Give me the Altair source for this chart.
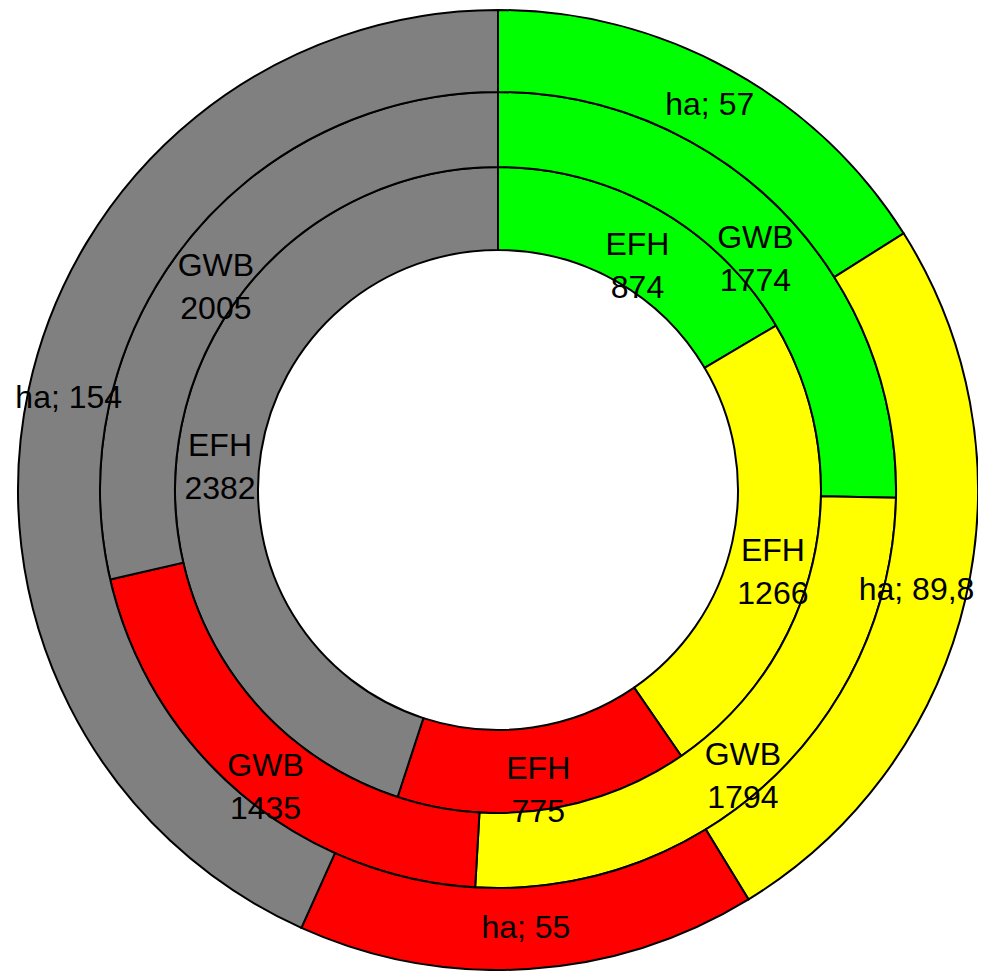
import altair as alt
import pandas as pd

segments = ["green", "yellow", "red", "gray"]
colors = ["#00ff00", "#ffff00", "#ff0000", "#808080"]
efh = [874, 1266, 775, 2382]
gwb = [1774, 1794, 1435, 2005]
ha = [57, 89.8, 55, 154]
ha_labels = ["ha; 57", "ha; 89,8", "ha; 55", "ha; 154"]

CX, CY = 490, 482

rings = [
    ("EFH", efh, [f"EFH\n{v}" for v in efh], 240, 323),
    ("GWB", gwb, [f"GWB\n{v}" for v in gwb], 323, 398),
    ("ha", ha, ha_labels, 398, 480),
]

arc_layers = []
text_layers = []
for name, vals, labels, r0, r1 in rings:
    df = pd.DataFrame({
        "segment": segments,
        "idx": list(range(len(segments))),
        "value": vals,
        "label": labels,
    })
    base = alt.Chart(df).encode(
        theta=alt.Theta("value:Q", stack=True),
        order=alt.Order("idx:Q"),
        x=alt.value(CX),
        y=alt.value(CY),
    )
    arc = base.mark_arc(radius=r1, radius2=r0, stroke="black", strokeWidth=2).encode(
        color=alt.Color("segment:N", scale=alt.Scale(domain=segments, range=colors), legend=None)
    )
    arc_layers.append(arc)
    text_style = dict(
        radius=(r0 + r1) / 2, font="Liberation Sans", fontSize=32,
        lineBreak="\n", lineHeight=43, color="black",
        align="center", baseline="middle",
    )
    # stack first so every label sits at the middle of its own slice
    stacked = base.transform_stack(
        stack="value", groupby=[], as_=["v0", "v1"], sort=[alt.SortField("idx")]
    ).transform_joinaggregate(total="sum(value)").transform_calculate(
        mid="(datum.v0 + datum.v1) / 2"
    ).encode(
        theta=alt.Theta("mid:Q", stack=None,
                        scale=alt.Scale(domain=[0, sum(vals)], range=[0, 6.283185307179586])),
    )
    if name == "ha":
        text_layers.append(stacked.transform_filter("datum.idx != 1").mark_text(**text_style).encode(text="label:N"))
        text_layers.append(stacked.transform_filter("datum.idx == 1").mark_text(dx=-9, **text_style).encode(text="label:N"))
    else:
        text_layers.append(stacked.mark_text(**text_style).encode(text="label:N"))

chart = alt.layer(*arc_layers, *text_layers).resolve_scale(theta="independent").properties(
    width=970, height=963, padding=0,
    autosize=alt.AutoSizeParams(type="none"),
).configure_view(stroke=None)

chart.save("out.html", embed_options={"renderer": "svg", "actions": False})
